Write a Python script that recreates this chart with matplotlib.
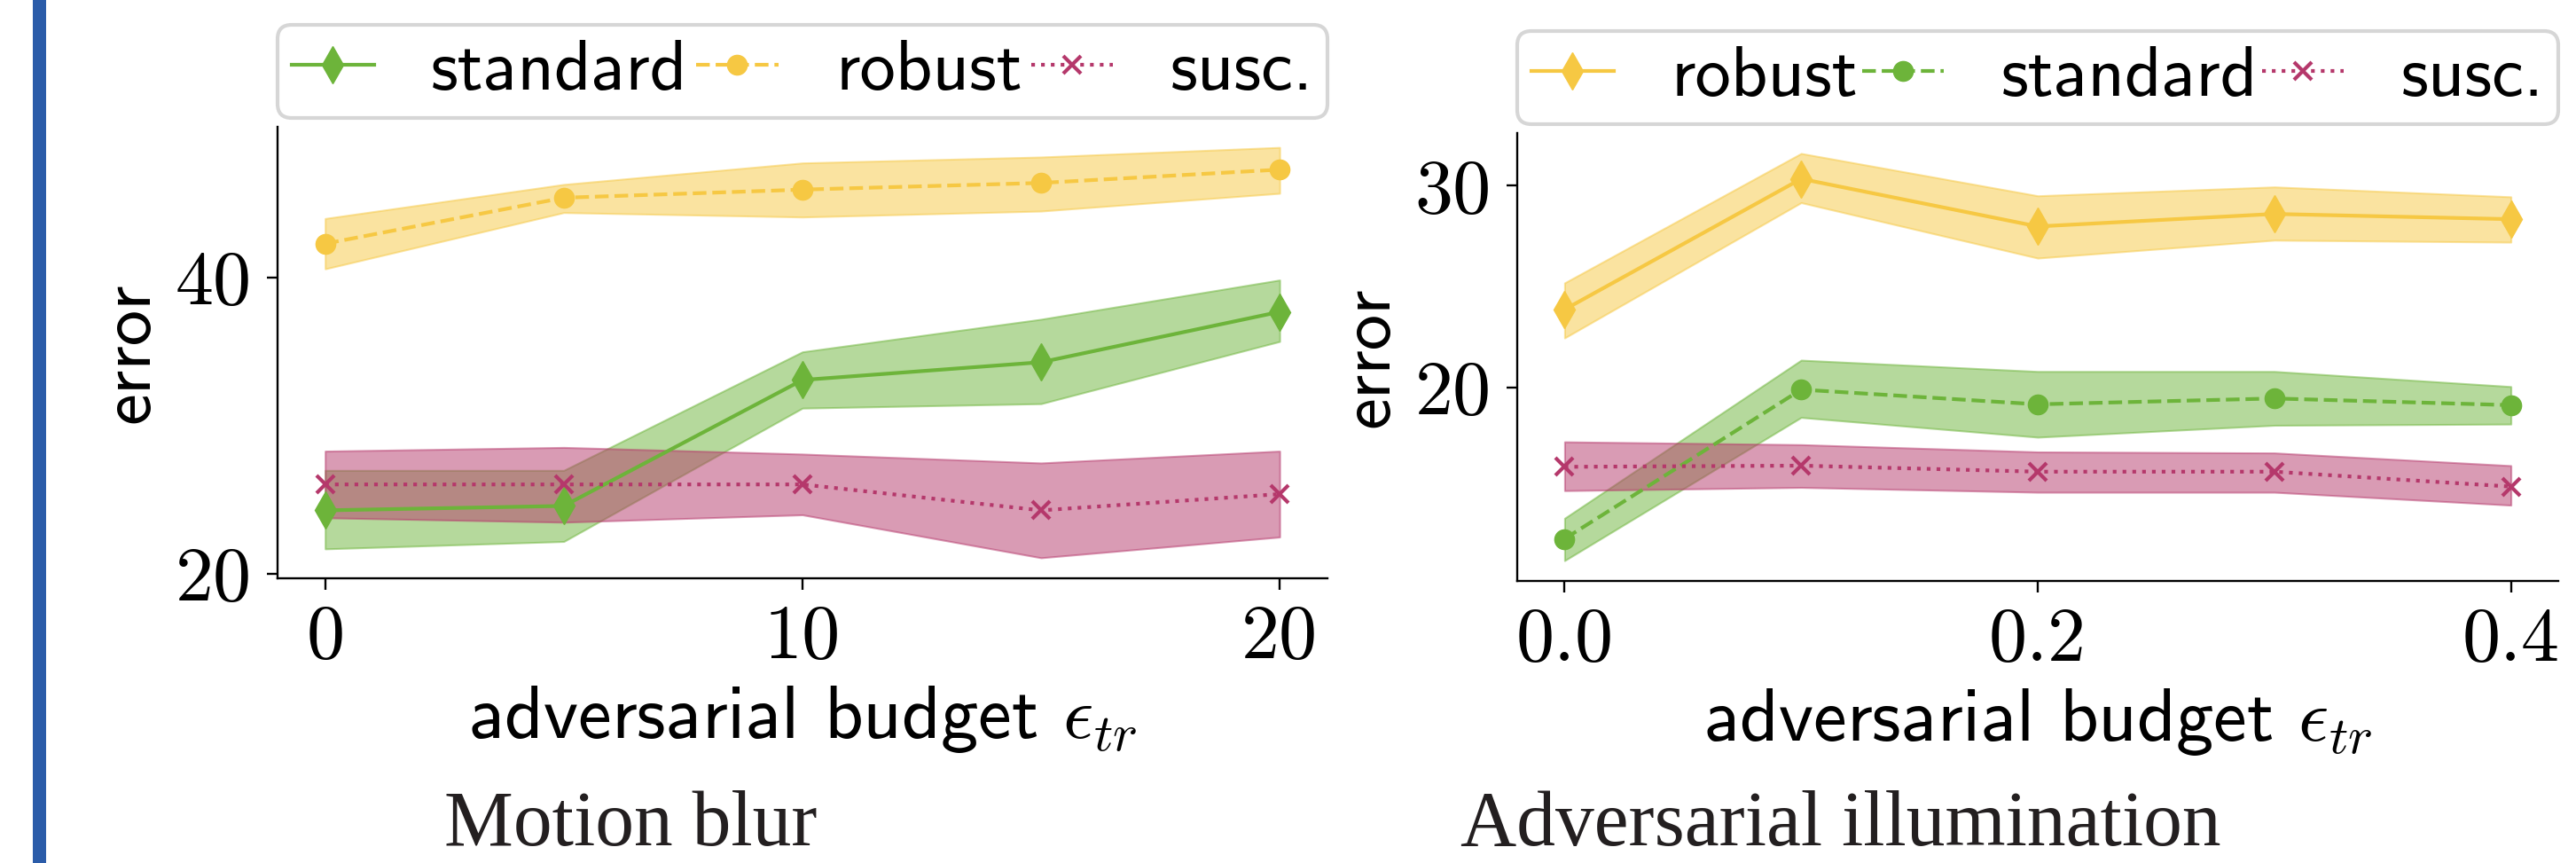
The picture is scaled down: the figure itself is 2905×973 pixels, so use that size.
import matplotlib
matplotlib.use("Agg")
import matplotlib.pyplot as plt
from matplotlib.patches import Rectangle

plt.rcParams["mathtext.fontset"] = "cm"
plt.rcParams["axes.unicode_minus"] = False

# motion blur: error vs. training budget (mean and band)
eps_blur = [0, 5, 10, 15, 20]
blur_standard = [24.3, 24.6, 33.1, 34.3, 37.7]
blur_standard_lo = [21.7, 22.2, 31.2, 31.5, 35.7]
blur_standard_hi = [27.0, 27.0, 35.0, 37.2, 39.85]
blur_robust = [42.3, 45.4, 45.95, 46.4, 47.3]
blur_robust_lo = [40.6, 44.4, 44.1, 44.5, 45.7]
blur_robust_hi = [44.0, 46.3, 47.75, 48.15, 48.8]
blur_susc = [26.05, 26.05, 26.05, 24.3, 25.4]
blur_susc_lo = [23.8, 23.5, 24.0, 21.1, 22.5]
blur_susc_hi = [28.3, 28.55, 28.1, 27.5, 28.3]

# adversarial illumination
eps_illum = [0.0, 0.1, 0.2, 0.3, 0.4]
illum_robust = [23.86, 30.34, 27.98, 28.6, 28.34]
illum_robust_lo = [22.45, 29.16, 26.41, 27.3, 27.2]
illum_robust_hi = [25.18, 31.6, 29.5, 29.94, 29.45]
illum_standard = [12.49, 19.89, 19.16, 19.45, 19.12]
illum_standard_lo = [11.41, 18.51, 17.53, 18.12, 18.18]
illum_standard_hi = [13.51, 21.35, 20.79, 20.79, 20.04]
illum_susc = [16.06, 16.12, 15.82, 15.82, 15.08]
illum_susc_lo = [14.88, 15.04, 14.8, 14.8, 14.16]
illum_susc_hi = [17.3, 17.16, 16.8, 16.75, 16.12]

YELLOW = "#f6c843"
GREEN = "#6db43a"
CRIMSON = "#b5386b"

# line style goes with legend position, colour goes with the model
STYLES = [dict(ls="-", marker="d", ms=21),
          dict(ls="--", marker="o", ms=16),
          dict(ls=":", marker="x", ms=15, mew=3)]

SANS = "cmss10"
SERIF_TICKS = "cmr10"
FS = 58


def panel(ax, x, series, xticks, yticks):
    for (name, color, y, lo, hi), st in zip(series, STYLES):
        ax.fill_between(x, lo, hi, color=color, alpha=0.5, lw=1.5)
        ax.plot(x, y, color=color, lw=3, label=name, **st)
    ax.set_xticks(xticks)
    ax.set_yticks(yticks)
    for s in ["top", "right"]:
        ax.spines[s].set_visible(False)
    for s in ["left", "bottom"]:
        ax.spines[s].set_linewidth(1.7)
    ax.tick_params(length=9, width=1.7, labelsize=62, pad=12,
                   labelfontfamily=SERIF_TICKS)
    ax.set_xlabel(r"adversarial budget $\epsilon_{tr}$", fontsize=61,
                  fontfamily=SANS, labelpad=9)
    ax.set_ylabel("error", fontsize=FS, fontfamily=SANS, labelpad=10)
    leg = ax.legend(loc="lower left", bbox_to_anchor=(0, 1.02, 1, 0.2),
                    mode="expand", ncol=3, borderaxespad=0,
                    borderpad=0.2, handlelength=1.15, handletextpad=0.8,
                    prop=dict(family=SANS, size=FS), fancybox=True)
    leg.get_frame().set_linewidth(3)


fig = plt.figure(figsize=(29.05, 9.73), dpi=100)

ax1 = fig.add_axes([0.1077, 0.3299, 0.4076, 0.5231])
panel(ax1, eps_blur,
      [("standard", GREEN, blur_standard, blur_standard_lo, blur_standard_hi),
       ("robust", YELLOW, blur_robust, blur_robust_lo, blur_robust_hi),
       ("susc.", CRIMSON, blur_susc, blur_susc_lo, blur_susc_hi)],
      [0, 10, 20], [20, 40])

ax2 = fig.add_axes([0.589, 0.3268, 0.4041, 0.519])
panel(ax2, eps_illum,
      [("robust", YELLOW, illum_robust, illum_robust_lo, illum_robust_hi),
       ("standard", GREEN, illum_standard, illum_standard_lo, illum_standard_hi),
       ("susc.", CRIMSON, illum_susc, illum_susc_lo, illum_susc_hi)],
      [0.0, 0.2, 0.4], [20, 30])

# captions under each plot
fig.text(501 / 2905, 1 - 953 / 973, "Motion blur", fontsize=63,
         family="Liberation Serif", color="#231f20", va="baseline")
fig.text(1647 / 2905, 1 - 953 / 973, "Adversarial illumination", fontsize=63,
         family="Liberation Serif", color="#231f20", va="baseline")

# vertical accent bar on the left edge
fig.add_artist(Rectangle((37 / 2905, 0), 15 / 2905, 1,
                         transform=fig.transFigure, color="#2b5ca9", lw=0))

fig.savefig("out.png", dpi=100)
